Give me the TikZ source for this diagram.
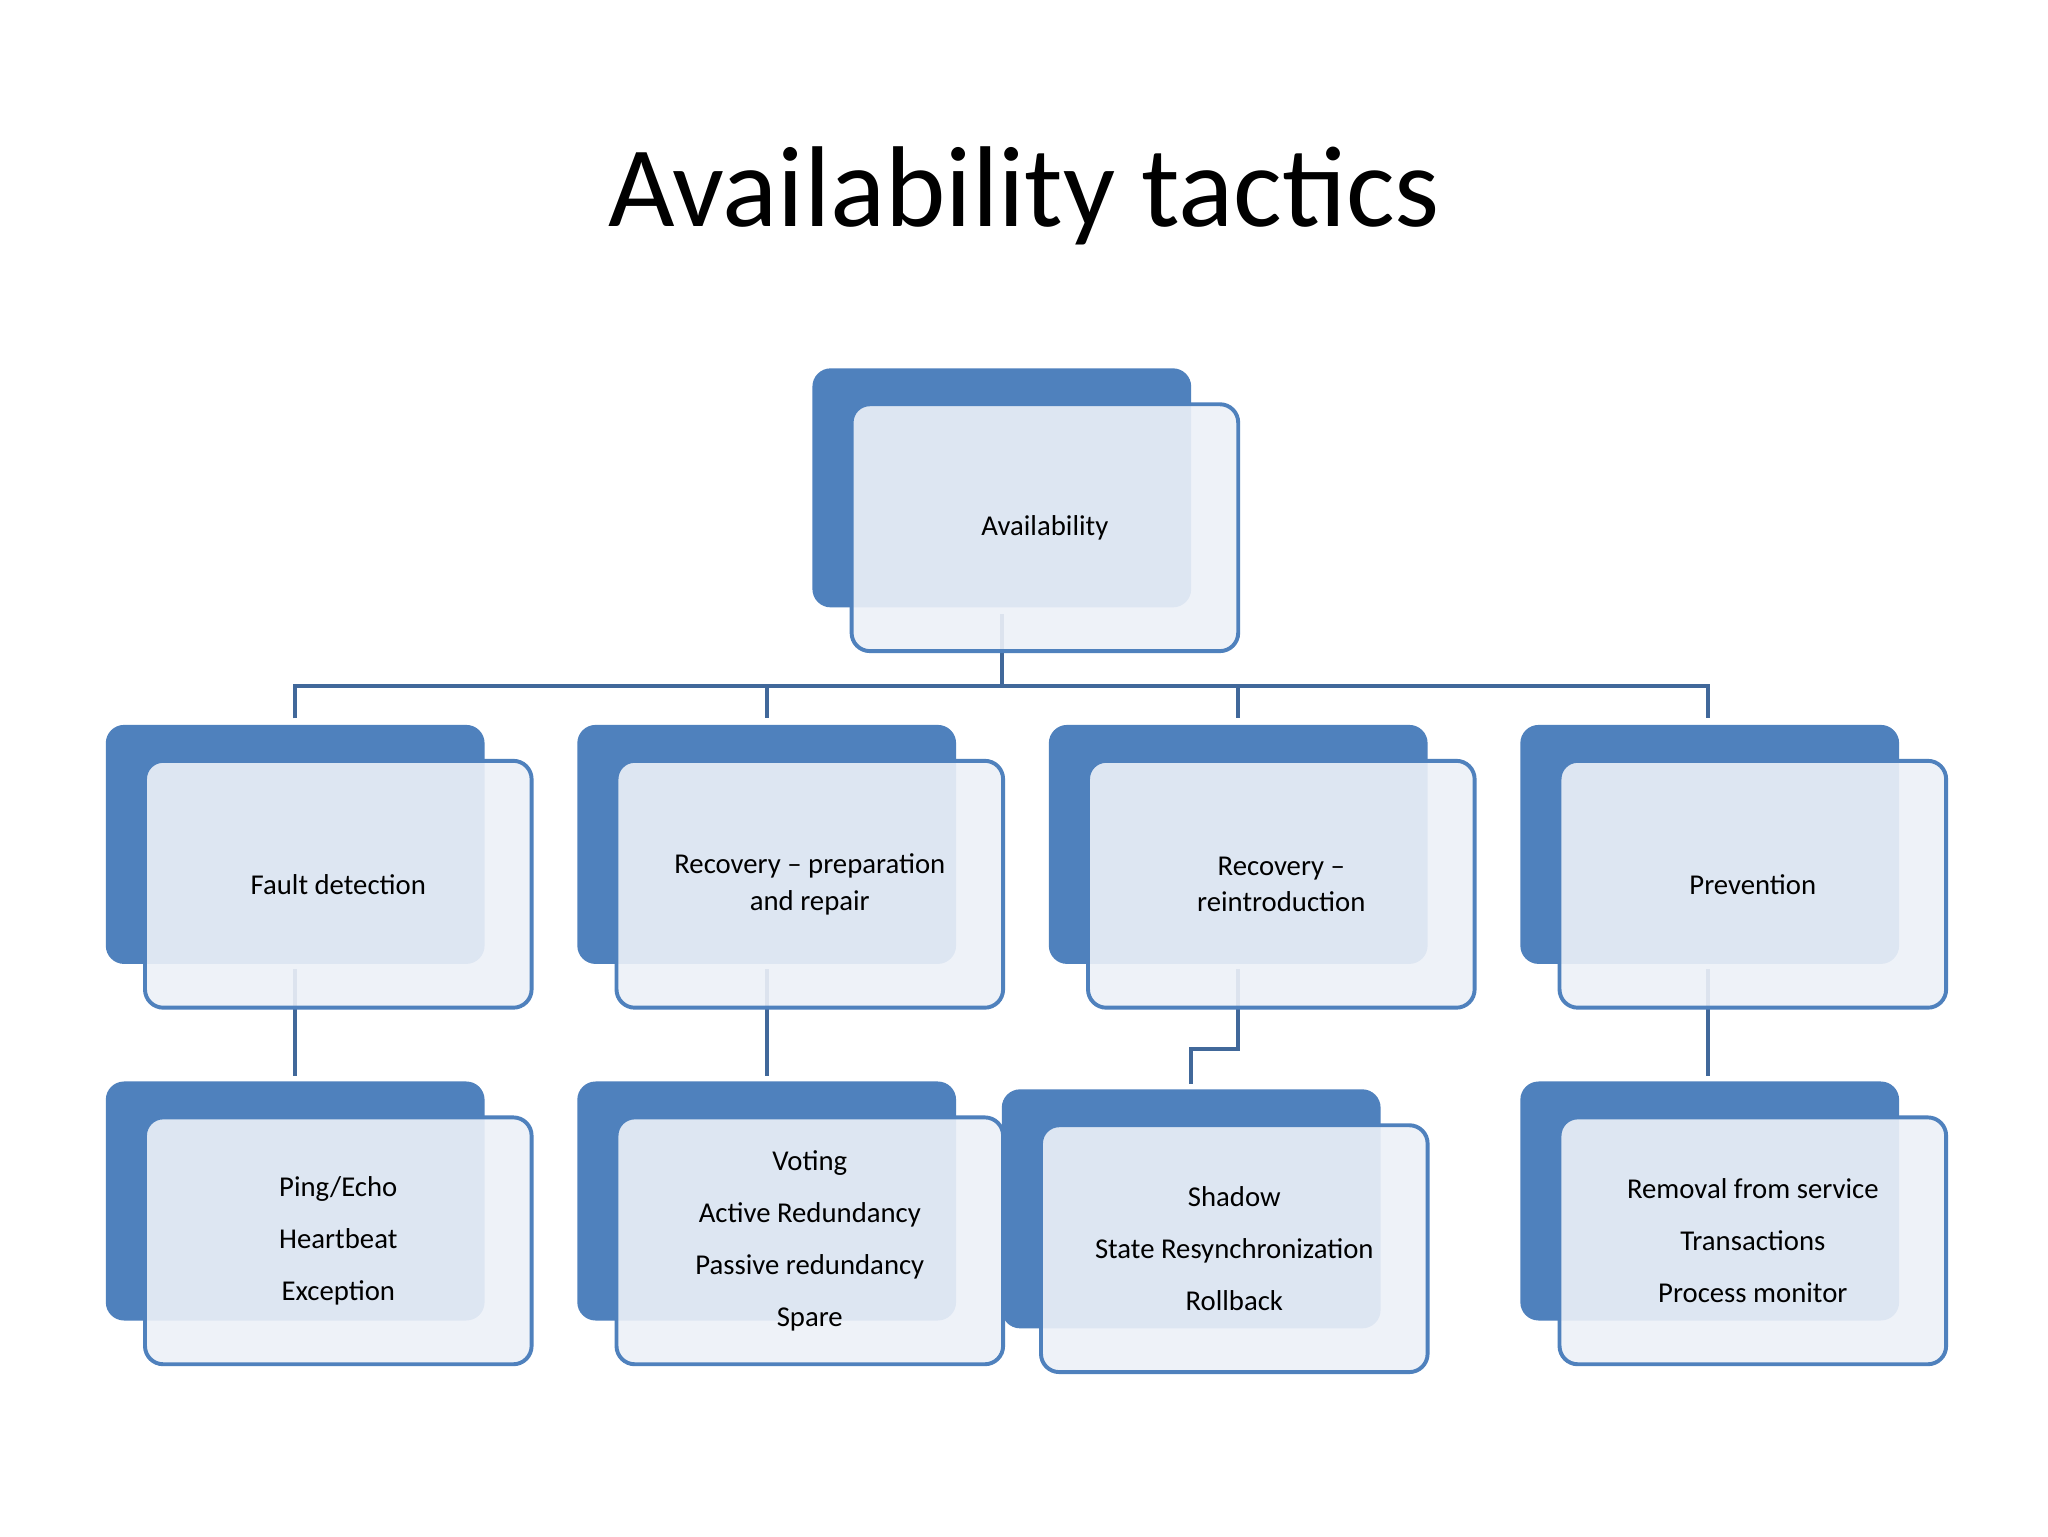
\documentclass[tikz,border=0pt]{standalone}
\usepackage{fontspec}
\setmainfont{Carlito}
\definecolor{acc}{HTML}{4F81BD}
\definecolor{lnk}{HTML}{41689A}
\definecolor{pale}{HTML}{EDF1F8}
\begin{document}
\begin{tikzpicture}[x=1pt,y=-1pt,
  back/.style={fill=acc,rounded corners=14pt},
  front/.style={draw=acc,line width=3pt,fill=pale,fill opacity=0.9,text opacity=1,rounded corners=14pt,
    minimum width=296pt,minimum height=189pt,inner sep=0pt,align=center,font=\fontsize{22}{28}\selectfont},
  list/.style={front,font=\fontsize{22}{40}\selectfont},
  link/.style={draw=lnk,line width=3pt}]
\useasboundingbox[fill=white] (0,0) rectangle (1568,1176);
\node[font=\fontsize{88}{100}\selectfont] (title) at (784,150) {Availability tactics};
% connectors
\coordinate (r0) at (767,470);
\coordinate (hl) at (226,525); \coordinate (hr) at (1308,525);
\coordinate (c1) at (226,550); \coordinate (c2) at (587,550);
\coordinate (c3) at (948,550); \coordinate (c4) at (1308,550);
\draw[link] (r0) -- (767,525);
\draw[link] (c1) -- (hl) -- (hr) -- (c4);
\draw[link] (587,525) -- (c2);
\draw[link] (948,525) -- (c3);
\coordinate (d1a) at (226,742); \coordinate (d1b) at (226,824);
\coordinate (d2a) at (587,742); \coordinate (d2b) at (587,824);
\coordinate (d3a) at (948,742); \coordinate (d3b) at (912,830);
\coordinate (d4a) at (1308,742); \coordinate (d4b) at (1308,824);
\draw[link] (d1a) -- (d1b);
\draw[link] (d2a) -- (d2b);
\draw[link] (d3a) -- (948,803) -- (912,803) -- (d3b);
\draw[link] (d4a) -- (d4b);
% boxes
\fill[back] (622,282) rectangle (912,465);
\node[front] (root) at (800,404) {Availability};
\foreach \x/\n/\t in {81/fd/Fault detection,442/rp/{Recovery -- preparation\\and repair},803/rr/{Recovery --\\reintroduction},1164/pv/Prevention}{
  \fill[back] (\x,555) rectangle (\x+290,738);
  \node[front] (\n) at (\x+178,677) {\t};
}
\fill[back] (81,828) rectangle (371,1011);
\node[list] (pe) at (259,950) {Ping/Echo\\Heartbeat\\Exception};
\fill[back] (442,828) rectangle (732,1011);
\node[list] (vo) at (620,950) {Voting\\Active Redundancy\\Passive redundancy\\Spare};
\fill[back] (767,834) rectangle (1057,1017);
\node[list] (sh) at (945,956) {Shadow\\State Resynchronization\\Rollback};
\fill[back] (1164,828) rectangle (1454,1011);
\node[list] (rm) at (1342,950) {Removal from service\\Transactions\\Process monitor};
\end{tikzpicture}
\end{document}
